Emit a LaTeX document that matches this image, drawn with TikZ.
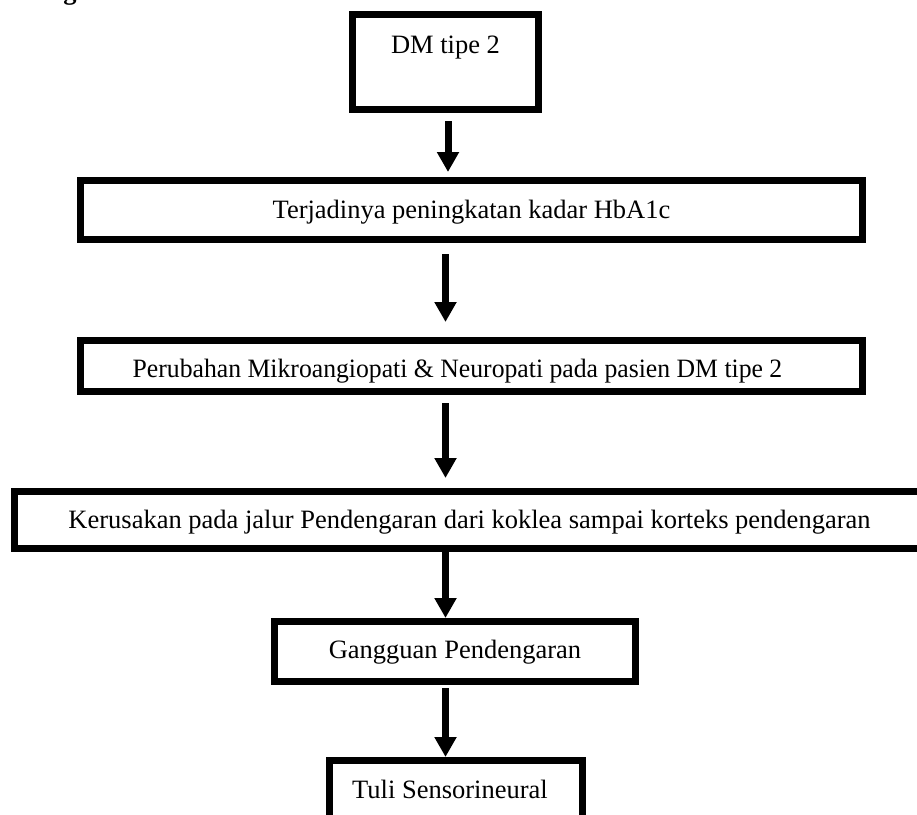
\documentclass[tikz,border=0pt]{standalone}
\usepackage{fontspec}
\setmainfont{Liberation Serif}
\usetikzlibrary{arrows.meta}

\begin{document}
\begin{tikzpicture}[x=1pt,y=-1pt,>={Triangle[length=20pt,width=21pt]},
  box/.style={draw,line width=7pt,inner sep=0pt,outer sep=0pt,font=\fontsize{26.5}{31}\selectfont},
  flow/.style={->,line width=7pt}]
\useasboundingbox (0,0) rectangle (917,814);
\node[anchor=base,font=\bfseries\fontsize{26.5}{31}\selectfont] (frag) at (70,-0.5) {g};
\node[box,minimum width=186pt,minimum height=95pt,text height=30pt,text depth=48pt] (dm) at (445.5,62) {DM tipe 2};
\node[box,minimum width=782pt,minimum height=59pt,text height=24pt,text depth=8pt] (hb) at (471.5,210) {Terjadinya peningkatan kadar HbA1c};
\node[box,minimum width=782pt,minimum height=51pt,text height=28pt,text depth=6pt] (pb) at (471.5,366) {\hspace*{-28pt}\scalebox{0.97}[1]{Perubahan Mikroangiopati \& Neuropati pada pasien DM tipe 2}};
\node[box,minimum width=910pt,minimum height=57pt,text height=24pt,text depth=8pt] (kr) at (469.5,520) {Kerusakan pada jalur Pendengaran dari koklea sampai korteks pendengaran};
\node[box,minimum width=361pt,minimum height=60pt,text height=22pt,text depth=9pt] (gp) at (455,651.5) {Gangguan Pendengaran};
\node[box,minimum width=253pt,minimum height=60pt,text height=23pt,text depth=8pt] (ts) at (456,790.5) {\hspace*{-12pt}Tuli Sensorineural};
\draw[flow] ([xshift=2.5pt,yshift=-11.5pt]dm.south) -- ([xshift=2.5pt,yshift=8.5pt]dm.south |- hb.north);
\draw[flow] ([yshift=-14.5pt]dm.south |- hb.south) -- ([yshift=18.5pt]dm.south |- pb.north);
\draw[flow] ([yshift=-11.5pt]dm.south |- pb.south) -- ([yshift=13.5pt]dm.south |- kr.north);
\draw[flow] ([yshift=-3.5pt]dm.south |- kr.south) -- ([yshift=3.5pt]dm.south |- gp.north);
\draw[flow] ([yshift=-6.5pt]dm.south |- gp.south) -- ([yshift=3.5pt]dm.south |- ts.north);
\end{tikzpicture}
\end{document}
